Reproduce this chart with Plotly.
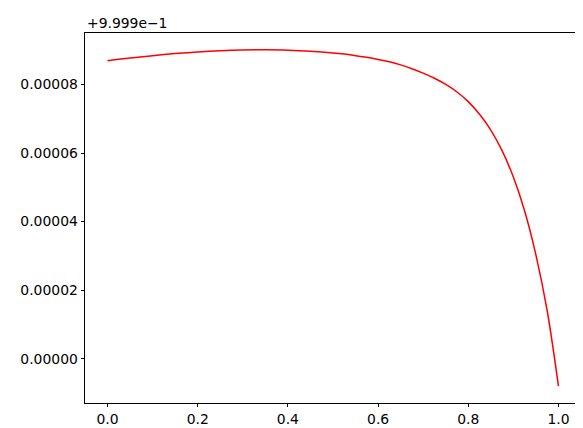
import plotly.graph_objects as go

# Data (y shown relative to an offset of 0.9999)
OFFSET_TEXT = "+9.999e\u22121"
x_values = [0.0, 0.05, 0.1, 0.15, 0.2, 0.25, 0.3, 0.35, 0.4, 0.45, 0.5,
            0.525, 0.55, 0.575, 0.6, 0.625, 0.65, 0.675, 0.7, 0.725,
            0.75, 0.775, 0.8, 0.825, 0.85, 0.875, 0.9, 0.925,
            0.95, 0.975, 1.0]
y_values = [86.9e-6, 87.7e-6, 88.4e-6, 89.0e-6, 89.5e-6, 89.85e-6, 90.05e-6,
            90.1e-6, 90.0e-6, 89.7e-6, 89.2e-6,
            88.85e-6, 88.4e-6, 87.9e-6, 87.3e-6, 86.6e-6, 85.7e-6, 84.6e-6,
            83.3e-6, 81.8e-6,
            80.0e-6, 77.8e-6, 75.0e-6, 71.3e-6, 66.7e-6, 60.7e-6,
            53.0e-6, 43.1e-6, 30.3e-6, 14.0e-6, -8.0e-6]
x_ticks = [0.0, 0.2, 0.4, 0.6, 0.8, 1.0]
y_ticks = [0.0, 0.00002, 0.00004, 0.00006, 0.00008]

ymin, ymax = min(y_values), max(y_values)
ypad = (ymax - ymin) * 0.05
xmin, xmax = min(x_values), max(x_values)
xpad = (xmax - xmin) * 0.05

fig = go.Figure()
fig.add_trace(go.Scatter(x=x_values, y=y_values, mode="lines",
                         line=dict(color="red", width=1.5, shape="spline", smoothing=1.0),
                         showlegend=False))

axis_common = dict(showline=True, linecolor="black", linewidth=0.8, mirror=True,
                   ticks="outside", ticklen=3.5, tickwidth=0.8, tickcolor="black",
                   showgrid=False, zeroline=False,
                   tickfont=dict(family="DejaVu Sans", size=13.9, color="black"))

fig.update_xaxes(range=[xmin - xpad, xmax + xpad], tickvals=x_ticks,
                 ticktext=[f"{v:.1f}" for v in x_ticks], **axis_common)
fig.update_yaxes(range=[ymin - ypad, ymax + ypad], tickvals=y_ticks,
                 ticktext=[f"{v:.5f}" for v in y_ticks], **axis_common)

fig.add_annotation(text=OFFSET_TEXT, xref="paper", yref="paper", x=0, y=1,
                   xanchor="left", yanchor="bottom", showarrow=False, yshift=0,
                   font=dict(family="DejaVu Sans", size=13.9, color="black"))

fig.update_layout(width=583, height=428, paper_bgcolor="white", plot_bgcolor="white",
                  margin=dict(l=77, r=10, t=25, b=33.4, pad=0))

fig.write_html("out.html")
